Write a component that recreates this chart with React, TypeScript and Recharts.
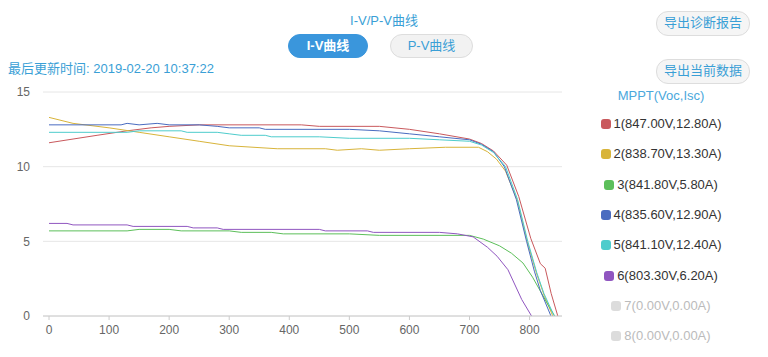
import { LineChart, Line, XAxis, YAxis, CartesianGrid } from 'recharts';

// I-V curves per MPPT: [voltage V, current A]
const mppt1: [number, number][] = [
  [0, 11.6], [40, 11.85], [80, 12.1], [130, 12.4], [170, 12.6], [200, 12.7], [250, 12.8],
  [420, 12.8], [450, 12.7], [550, 12.7], [600, 12.5], [650, 12.2], [700, 11.85], [720, 11.55],
  [740, 11.05], [762, 10.1], [782, 8.0], [802, 5.2], [818, 3.5], [826, 3.2], [836, 1.5], [847, 0],
];
const mppt2: [number, number][] = [
  [0, 13.3], [40, 12.9], [100, 12.6], [150, 12.3], [200, 12.0], [250, 11.7], [300, 11.4],
  [380, 11.2], [460, 11.2], [480, 11.1], [520, 11.2], [550, 11.1], [600, 11.2], [660, 11.3],
  [715, 11.3], [730, 11.0], [745, 10.5], [760, 9.7], [780, 7.7], [796, 5.0], [812, 2.8],
  [825, 1.3], [838.7, 0],
];
const mppt3: [number, number][] = [
  [0, 5.7], [130, 5.7], [150, 5.8], [200, 5.8], [220, 5.7], [300, 5.7], [320, 5.6],
  [370, 5.6], [390, 5.5], [500, 5.5], [550, 5.4], [700, 5.4], [723, 5.15], [750, 4.7],
  [770, 4.2], [789, 3.55], [805, 2.6], [817, 1.74], [830, 0.8], [841.8, 0],
];
const mppt4: [number, number][] = [
  [0, 12.8], [120, 12.8], [130, 12.9], [150, 12.8], [180, 12.9], [200, 12.8], [250, 12.8],
  [280, 12.7], [300, 12.6], [350, 12.6], [360, 12.5], [500, 12.5], [550, 12.4], [600, 12.2],
  [650, 12.0], [700, 11.8], [720, 11.5], [740, 11.0], [758, 10.0], [778, 7.8], [795, 5.0],
  [808, 3.0], [818, 1.7], [835.6, 0],
];
const mppt5: [number, number][] = [
  [0, 12.3], [130, 12.3], [150, 12.4], [220, 12.4], [230, 12.3], [280, 12.3], [300, 12.2],
  [320, 12.1], [360, 12.1], [370, 12.0], [450, 12.0], [500, 11.9], [600, 11.9], [650, 11.8],
  [700, 11.7], [720, 11.45], [740, 10.95], [760, 10.0], [780, 7.8], [797, 5.0], [812, 2.9],
  [824, 1.5], [841.1, 0],
];
const mppt6: [number, number][] = [
  [0, 6.2], [30, 6.2], [40, 6.1], [130, 6.1], [140, 6.0], [230, 6.0], [240, 5.9], [280, 5.9],
  [290, 5.8], [450, 5.8], [460, 5.7], [530, 5.7], [540, 5.6], [650, 5.6], [680, 5.5],
  [706, 5.3], [730, 4.6], [746, 4.0], [764, 3.1], [787, 1.1], [803.3, 0],
];

const seriesData = [mppt1, mppt2, mppt3, mppt4, mppt5, mppt6];
const seriesColors = ['#c9595d', '#d8b43a', '#5cbf5a', '#4a6cc0', '#4ecccc', '#9056c0', '#dcdcdc', '#dcdcdc'];
const vocList = [847.0, 838.7, 841.8, 835.6, 841.1, 803.3, 0, 0];
const iscList = [12.8, 13.3, 5.8, 12.9, 12.4, 6.2, 0, 0];
const xTicks = [0, 100, 200, 300, 400, 500, 600, 700, 800];
const yTicks = [0, 5, 10, 15];

const font = '"Liberation Sans", "Noto Sans CJK SC", sans-serif';
const blue = '#3a9fd6';

const pill = (bg: string, color: string, border: string) => ({
  position: 'absolute' as const,
  height: 24,
  borderRadius: 12,
  background: bg,
  color,
  border: `1px solid ${border}`,
  boxSizing: 'border-box' as const,
  fontSize: 13,
  lineHeight: '22px',
  textAlign: 'center' as const,
});

export default function App() {
  const lines = seriesData.map((pts) => pts.map(([v, i]) => ({ v, i })));
  return (
    <div style={{ position: 'absolute', left: 0, top: 0, width: 768, height: 357, background: '#fff', fontFamily: font, overflow: 'hidden' }}>
      <div style={{ position: 'absolute', left: 0, width: 768, top: 10, textAlign: 'center', fontSize: 13, color: blue }}>I-V/P-V曲线</div>
      <div style={{ ...pill('#3a96dc', '#fff', '#3a96dc'), left: 288, top: 34, width: 80, fontWeight: 'bold' }}>I-V曲线</div>
      <div style={{ ...pill('#f2f2f2', blue, '#dddddd'), left: 390, top: 34, width: 83 }}>P-V曲线</div>
      <div style={{ ...pill('#f5f5f5', blue, '#dddddd'), left: 656, top: 11, width: 94, height: 25 }}>导出诊断报告</div>
      <div style={{ ...pill('#f5f5f5', blue, '#dddddd'), left: 656, top: 59, width: 94, height: 25 }}>导出当前数据</div>
      <div style={{ position: 'absolute', left: 8, top: 58, fontSize: 13, color: blue }}>最后更新时间: 2019-02-20 10:37:22</div>

      <div style={{ position: 'absolute', left: 580, width: 162, top: 88, textAlign: 'center', fontSize: 13, color: '#4aa8dc' }}>MPPT(Voc,Isc)</div>
      {vocList.map((voc, k) => (
        <div key={k} style={{ position: 'absolute', left: 580, width: 162, top: 116 + k * 30.3, textAlign: 'center', fontSize: 13, lineHeight: '16px', color: k < 6 ? '#333' : '#bbb' }}>
          <span style={{ display: 'inline-block', width: 10, height: 10, borderRadius: 3, background: seriesColors[k], marginRight: 3, verticalAlign: -1 }} />
          {`${k + 1}(${voc.toFixed(2)}V,${iscList[k].toFixed(2)}A)`}
        </div>
      ))}

      <div style={{ position: 'absolute', left: 0, top: 0 }}>
        <LineChart width={570} height={357} margin={{ top: 92, right: 8, bottom: 0, left: 0 }}>
          <CartesianGrid vertical={false} stroke="#e6e6e6" />
          <XAxis
            dataKey="v"
            type="number"
            domain={[-10, 854]}
            ticks={xTicks}
            allowDuplicatedCategory={false}
            stroke="#cccccc"
            tickSize={4}
            tickMargin={5}
            tick={{ fill: '#666', fontSize: 12, fontFamily: font }}
            height={41}
          />
          <YAxis
            type="number"
            domain={[0, 15]}
            ticks={yTicks}
            axisLine={false}
            tickLine={false}
            width={43}
            tickMargin={7}
            tick={{ fill: '#666', fontSize: 12, fontFamily: font }}
          />
          {lines.map((d, k) => (
            <Line
              key={k}
              data={d}
              dataKey="i"
              type="linear"
              stroke={seriesColors[k]}
              strokeWidth={1}
              dot={false}
              isAnimationActive={false}
            />
          ))}
        </LineChart>
      </div>
    </div>
  );
}
